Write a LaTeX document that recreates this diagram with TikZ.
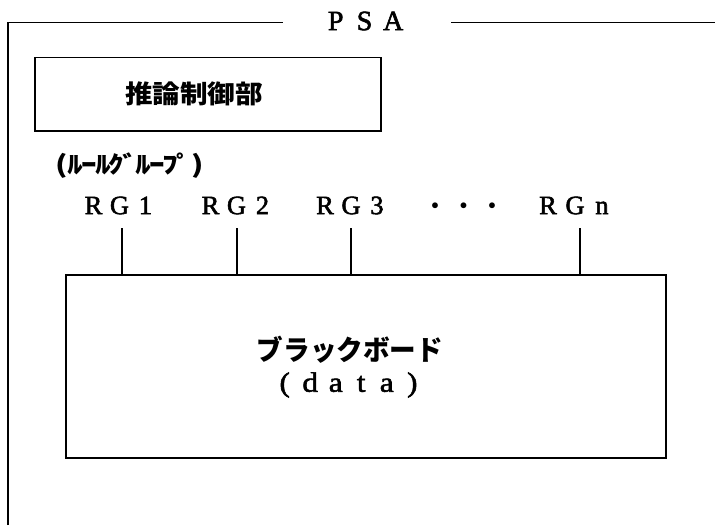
\documentclass[tikz,border=0pt]{standalone}
\usepackage{fontspec}
\newfontfamily\jpfont{Noto Sans CJK JP}
\newfontfamily\serifc[FakeBold=2]{Liberation Serif}
\newfontfamily\serifw[FakeStretch=1.12,FakeBold=2]{Liberation Serif}
\newlength\fwp
\newcommand\fw[1]{\makebox[\fwp][c]{#1}}
\newcommand\fk[1]{\makebox[\fwp][c]{\scalebox{1.3}[1]{#1}}}
\newcommand\pitch[1]{\setlength\fwp{#1}}
\tikzset{
  frame/.style={line width=1.5pt},
  boxline/.style={draw, line width=1.4pt},
  link/.style={line width=1.1pt},
  rgtext/.style={inner sep=0pt, font=\serifc\fontsize{26.5}{26.5}\selectfont},
  jptext/.style={inner sep=0pt},
}
\newcommand\dotc{\raisebox{2pt}{\scalebox{0.6}{$\bullet$}}}
\begin{document}
\begin{tikzpicture}[x=1pt,y=-1pt]
\useasboundingbox (0,0) rectangle (715,525);
% outer PSA frame
\coordinate (fbl) at (8,525);
\coordinate (ftl) at (8,22.7);
\coordinate (fgl) at (283,22.7);
\coordinate (fgr) at (451,22.7);
\coordinate (ftr) at (715,22.7);
\draw[frame] (fbl) -- (ftl) -- (fgl);
\draw[frame] (fgr) -- (ftr);
\node[inner sep=0pt, font=\serifc\fontsize{28}{28}\selectfont] (psa) at (364.5,21) {\pitch{28.8pt}\fw{P}\fw{S}\fw{A}};
% inference control box
\draw[boxline] (35,57.5) rectangle (381,131);
\node[jptext] (ctl) at (194,94) {\scalebox{1}[0.92]{\jpfont\bfseries\fontsize{27.6}{27.6}\selectfont 推論制御部}};
% rule group label
\node[jptext] (rglabel) at (130,166) {\jpfont\bfseries\fontsize{24}{24}\selectfont\pitch{13.6pt}\fk{(}\fk{ﾙ}\fk{ｰ}\fk{ﾙ}\fk{ｸ}\fk{ﾞ}\fk{ﾙ}\fk{ｰ}\fk{ﾌ}\fk{ﾟ}\fk{)}};
% RG labels
\node[rgtext] (rg1) at (119.5,205.5) {\pitch{26pt}\fw{R}\fw{G}\fw{1}};
\node[rgtext] (rg2) at (236.5,205.5) {\pitch{26pt}\fw{R}\fw{G}\fw{2}};
\node[rgtext] (rg3) at (351,205.5) {\pitch{26pt}\fw{R}\fw{G}\fw{3}};
\node[rgtext] (dots) at (463.5,207) {\pitch{28.5pt}\fw{\dotc}\fw{\dotc}\fw{\dotc}};
\node[rgtext] (rgn) at (575,205.5) {\pitch{27pt}\fw{R}\fw{G}\fw{n}};
% blackboard
\node[boxline, minimum width=600pt, minimum height=183pt, inner sep=0pt] (bb) at (366,366.5) {};
\node[jptext] (bbtext) at (350,350) {\scalebox{1}[1.05]{\jpfont\bfseries\fontsize{26.6}{26.6}\selectfont ブラックボード}};
\node[inner sep=0pt, font=\serifw\fontsize{28}{28}\selectfont] (bbdata) at (348.5,385) {\pitch{25.5pt}\fw{(}\fw{d}\fw{a}\fw{t}\fw{a}\fw{)}};
% links
\foreach \n/\x in {rg1/122, rg2/237, rg3/351, rgn/580}{
  \coordinate (\n top) at (\x,228);
  \draw[link] (\n top) -- (\n top |- bb.north);
}
\end{tikzpicture}
\end{document}
